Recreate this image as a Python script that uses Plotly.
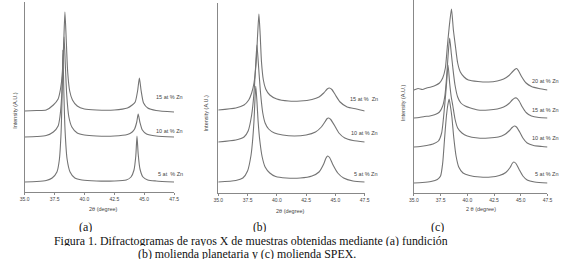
import plotly.graph_objects as go

W, H = 580, 273

tick_vals = [35.0, 37.5, 40.0, 42.5, 45.0, 47.5]
tick_text = ["35.0", "37.5", "40.0", "42.5", "45.0", "47.5"]

# ---------------- Panel (a): fundicion ----------------
a_labels = ["15 at % Zn", "10 at % Zn", "5 at  % Zn"]
a15_x = [35.0, 36.0, 36.8, 37.4, 37.8, 38.0, 38.15, 38.27, 38.37, 38.47, 38.6, 38.77, 39.0, 39.4, 40.0, 41.0, 42.5, 43.6, 44.0, 44.25, 44.45, 44.6, 44.75, 44.95, 45.3, 46.0, 47.5]
a15_y = [81, 81.5, 82, 87, 93, 103, 118, 150, 180, 155, 120, 101, 92, 86, 83, 82, 82, 84, 87, 90, 101, 114, 101, 89, 84, 81.5, 80]
a10_x = [35.0, 36.0, 36.8, 37.4, 37.8, 37.95, 38.1, 38.2, 38.3, 38.4, 38.52, 38.7, 38.95, 39.4, 40.0, 41.0, 42.5, 43.6, 44.0, 44.2, 44.38, 44.5, 44.64, 44.85, 45.2, 46.0, 47.5]
a10_y = [55, 55.5, 56.5, 60, 66, 75, 96, 125, 155, 128, 97, 75, 65, 59, 57, 56, 56, 57.5, 60, 63, 70, 78, 70, 62, 58, 56, 55]
a5_x = [35.0, 36.0, 36.8, 37.3, 37.7, 37.9, 38.05, 38.13, 38.2, 38.28, 38.38, 38.55, 38.8, 39.2, 39.8, 41.0, 42.5, 43.5, 43.9, 44.15, 44.3, 44.4, 44.5, 44.65, 44.9, 45.3, 46.0, 47.5]
a5_y = [10, 10.5, 11.5, 14, 20, 32, 60, 95, 142, 100, 62, 33, 20, 14, 12, 11, 11, 12, 15, 22, 36, 56, 38, 23, 15, 12, 11, 10]

# ---------------- Panel (b): molienda planetaria ----------------
b_labels = ["15 at %  Zn", "10 at % Zn", "5 at % Zn"]
b15_x = [35.0, 36.5, 37.2, 37.6, 37.85, 38.05, 38.24, 38.36, 38.47, 38.58, 38.69, 38.85, 39.05, 39.4, 40.0, 41.0, 42.0, 43.0, 43.6, 44.0, 44.3, 44.48, 44.7, 45.0, 45.4, 46.0, 46.8, 47.5]
b15_y = [83, 85, 88, 93, 100, 110, 131, 158, 179, 158, 131, 113, 104, 98, 94, 92, 92, 93.5, 96, 100, 104, 105, 103.5, 98, 91, 86, 84, 82]
b10_x = [35.0, 36.5, 37.2, 37.55, 37.85, 38.05, 38.18, 38.3, 38.45, 38.61, 38.8, 39.0, 39.3, 39.8, 40.5, 41.5, 42.5, 43.3, 43.8, 44.1, 44.3, 44.42, 44.6, 44.9, 45.3, 45.8, 46.5, 47.5]
b10_y = [51, 53, 56, 62, 78, 100, 125, 148, 125, 100, 80, 70, 64, 60, 58, 57, 58, 61, 66, 71, 74.5, 75, 73.5, 68, 60, 55, 52.5, 51]
b5_x = [35.0, 36.5, 37.1, 37.5, 37.8, 37.95, 38.05, 38.12, 38.2, 38.3, 38.4, 38.55, 38.75, 39.0, 39.4, 39.9, 40.8, 42.0, 43.0, 43.6, 44.0, 44.2, 44.34, 44.5, 44.8, 45.2, 45.7, 46.5, 47.5]
b5_y = [11, 12.5, 15, 22, 38, 55, 72, 90, 107, 92, 72, 52, 36, 26, 20, 16.5, 15, 15, 17, 21, 29, 35, 37, 35.5, 28, 20, 15, 12, 11]

# ---------------- Panel (c): molienda SPEX ----------------
c_labels = ["20 at % Zn", "15 at % Zn", "10 at % Zn", "5 at % Zn"]
c20_x = [35.0, 35.4, 35.8, 36.2, 36.6, 37.0, 37.4, 37.7, 37.95, 38.13, 38.3, 38.52, 38.7, 38.9, 39.1, 39.35, 39.7, 40.1, 41.0, 42.0, 42.8, 43.4, 43.9, 44.25, 44.5, 44.62, 44.8, 45.1, 45.5, 46.0, 46.7, 47.5]
c20_y = [103, 104.5, 103.5, 105, 106, 107.5, 110, 115, 125, 146, 165, 184, 163, 146, 130, 121, 116, 113, 111.5, 111, 112, 114, 117.5, 121.5, 124, 124.5, 122, 116, 110, 106.5, 104.5, 103]
c15_x = [35.0, 35.5, 36.0, 36.5, 37.0, 37.4, 37.7, 37.9, 38.06, 38.2, 38.35, 38.5, 38.65, 38.85, 39.1, 39.4, 39.8, 40.3, 41.0, 42.0, 42.8, 43.4, 43.9, 44.2, 44.45, 44.6, 44.85, 45.15, 45.5, 46.0, 46.7, 47.5]
c15_y = [75, 75.5, 76.5, 77, 78.5, 81, 87, 97, 115, 137, 155, 140, 125, 108, 96, 90, 87, 85, 83, 83, 84, 86, 89.5, 93, 95, 95, 92, 86, 80.5, 77, 75.5, 75]
c10_x = [35.0, 35.6, 36.2, 36.8, 37.3, 37.6, 37.88, 38.05, 38.2, 38.35, 38.5, 38.65, 38.85, 39.1, 39.5, 40.0, 41.0, 42.0, 42.9, 43.5, 43.9, 44.2, 44.4, 44.6, 44.9, 45.2, 45.6, 46.2, 47.0, 47.5]
c10_y = [46, 46.5, 47.5, 49, 52, 60, 87, 108, 128, 110, 96, 87, 74, 65, 60, 57, 55, 55, 56, 58.5, 62, 65.5, 67, 66, 61, 55, 50, 47.5, 46.5, 46]
c5_x = [35.0, 35.8, 36.6, 37.2, 37.5, 37.7, 37.88, 38.05, 38.18, 38.3, 38.42, 38.56, 38.74, 38.95, 39.2, 39.6, 40.2, 41.2, 42.2, 43.0, 43.6, 44.0, 44.2, 44.35, 44.55, 44.85, 45.2, 45.6, 46.3, 47.5]
c5_y = [10, 10.5, 11.5, 13.5, 17, 30, 55, 77, 88, 94, 87, 76, 55, 37, 26, 20, 17.5, 16, 16, 17.5, 20.5, 25.5, 29.5, 31, 29.5, 23.5, 17, 13, 11, 10]

panels = [
    dict(xs=[a15_x, a10_x, a5_x], ys=[a15_y, a10_y, a5_y], labels=a_labels),
    dict(xs=[b15_x, b10_x, b5_x], ys=[b15_y, b10_y, b5_y], labels=b_labels),
    dict(xs=[c20_x, c15_x, c10_x, c5_x], ys=[c20_y, c15_y, c10_y, c5_y], labels=c_labels),
]

# layout geometry (pixels)
geo = [
    dict(x0=20, x1=172, top=2, bot=192, ymax=190,
         lab_x=183, lab_y=[97, 131, 174], ytitle_x=10, ytitle_y=110, xtitle=(100, 209), xt="2θ (degree)"),
    dict(x0=217, x1=366, top=3, bot=193, ymax=190,
         lab_x=382, lab_y=[99, 133, 174], ytitle_x=205, ytitle_y=113, xtitle=(290, 211), xt="2θ (degree)"),
    dict(x0=416, x1=552, top=0, bot=193, ymax=193,
         lab_x=566, lab_y=[81, 110, 138, 174], ytitle_x=405, ytitle_y=103, xtitle=(484, 209), xt="2 θ (degree)"),
]

fig = go.Figure()
annotations = []
grey_text = "#444444"
font_small = "Liberation Sans, Arial, sans-serif"

for i, (p, g) in enumerate(zip(panels, geo)):
    sfx = "" if i == 0 else str(i + 1)
    for x, y in zip(p["xs"], p["ys"]):
        fig.add_trace(go.Scatter(x=x, y=y, mode="lines", xaxis="x" + sfx, yaxis="y" + sfx,
                                 line=dict(color="#747474", width=1.1, shape="spline", smoothing=0.6),
                                 showlegend=False, hoverinfo="skip"))
    fig.layout["xaxis" + sfx] = dict(
        domain=[g["x0"] / W, g["x1"] / W], range=[35, 47.5], anchor="y" + sfx,
        tickvals=tick_vals, ticktext=tick_text, ticks="outside", ticklen=2, tickwidth=1,
        tickcolor="#888", showline=True, linecolor="#888", linewidth=1, showgrid=False,
        zeroline=False, tickfont=dict(size=5, color=grey_text, family=font_small))
    fig.layout["yaxis" + sfx] = dict(
        domain=[1 - g["bot"] / H, 1 - g["top"] / H], range=[0, g["ymax"]], anchor="x" + sfx,
        showticklabels=False, ticks="", showline=True, linecolor="#888", linewidth=1,
        showgrid=False, zeroline=False)
    for lab, ly in zip(p["labels"], g["lab_y"]):
        annotations.append(dict(x=g["lab_x"] / W, y=1 - ly / H, xref="paper", yref="paper",
                                text=lab, showarrow=False, xanchor="right", yanchor="middle",
                                font=dict(size=5.5, color=grey_text, family=font_small)))
    annotations.append(dict(x=g["ytitle_x"] / W, y=1 - g["ytitle_y"] / H, xref="paper", yref="paper",
                            text="Intensity (A.U.)", textangle=-90, showarrow=False,
                            xanchor="center", yanchor="middle",
                            font=dict(size=5.5, color=grey_text, family=font_small)))
    annotations.append(dict(x=g["xtitle"][0] / W, y=1 - g["xtitle"][1] / H, xref="paper", yref="paper",
                            text=g["xt"], showarrow=False, xanchor="center", yanchor="middle",
                            font=dict(size=5.5, color=grey_text, family=font_small)))

serif = "Liberation Serif, Times New Roman, serif"
for txt, cx, cy, fs in [("(a)", 82, 227, 12), ("(b)", 259, 227, 11.5), ("(c)", 440, 227, 12)]:
    annotations.append(dict(x=cx / W, y=1 - cy / H, xref="paper", yref="paper", text=txt,
                            showarrow=False, xanchor="center", yanchor="middle", height=10,
                            font=dict(size=fs, color="#111", family=serif)))
annotations.append(dict(x=250 / W, y=1 - 240.2 / H, xref="paper", yref="paper",
                        text="Figura 1. Difractogramas de rayos X de muestras obtenidas mediante (a) fundición",
                        showarrow=False, xanchor="center", yanchor="middle", height=11,
                        font=dict(size=11.9, color="#111", family=serif)))
annotations.append(dict(x=246 / W, y=1 - 253.6 / H, xref="paper", yref="paper",
                        text="(b) molienda planetaria y (c) molienda SPEX.",
                        showarrow=False, xanchor="center", yanchor="middle", height=11,
                        font=dict(size=11.9, color="#111", family=serif)))

fig.update_layout(width=W, height=H, margin=dict(l=0, r=0, t=0, b=0),
                  paper_bgcolor="white", plot_bgcolor="white", annotations=annotations)

fig.write_html("out.html", config={"displayModeBar": False},
               post_script="document.body.style.margin='0';document.body.style.padding='0';")
